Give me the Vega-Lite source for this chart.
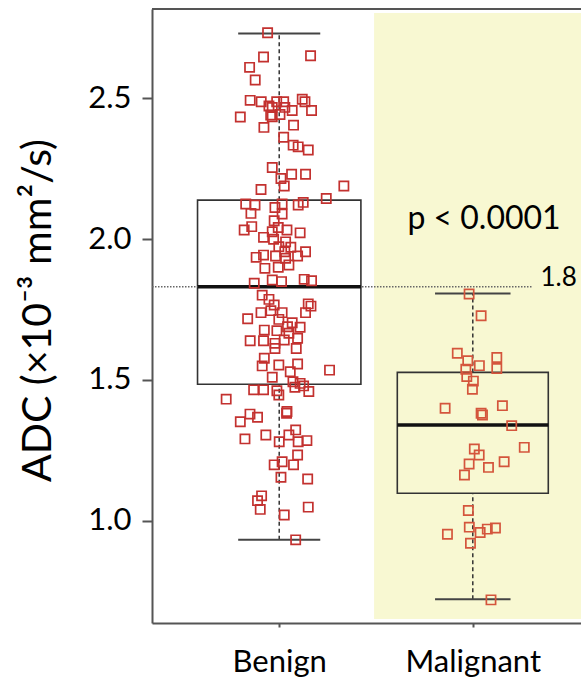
{
  "$schema": "https://vega.github.io/schema/vega-lite/v6.json",
  "width": 429,
  "height": 614,
  "autosize": {"type": "none"},
  "padding": {"left": 152, "top": 9, "right": 0, "bottom": 54},
  "background": "white",
  "config": {"view": {"stroke": null}, "font": "Lato"},
  "datasets": {
    "box": [
      {"g": "Benign", "pos": 1, "lo": 0.933, "q1": 1.485, "med": 1.831, "q3": 2.138, "hi": 2.729},
      {"g": "Malignant", "pos": 2, "lo": 0.722, "q1": 1.098, "med": 1.340, "q3": 1.527, "hi": 1.807}
    ],
    "pts": [
      {"g":"Benign","x":0.940,"v":2.732},{"g":"Benign","x":0.919,"v":2.646},{"g":"Benign","x":1.162,"v":2.650},{"g":"Benign","x":0.847,"v":2.609},
      {"g":"Benign","x":0.876,"v":2.564},{"g":"Benign","x":0.850,"v":2.492},{"g":"Benign","x":0.907,"v":2.487},{"g":"Benign","x":0.947,"v":2.472},
      {"g":"Benign","x":0.987,"v":2.487},{"g":"Benign","x":1.023,"v":2.487},{"g":"Benign","x":1.119,"v":2.496},{"g":"Benign","x":1.133,"v":2.487},
      {"g":"Benign","x":0.799,"v":2.433},{"g":"Benign","x":0.956,"v":2.440},{"g":"Benign","x":1.004,"v":2.442},{"g":"Benign","x":1.067,"v":2.456},
      {"g":"Benign","x":1.167,"v":2.456},{"g":"Benign","x":0.921,"v":2.396},{"g":"Benign","x":1.074,"v":2.404},{"g":"Benign","x":1.023,"v":2.361},
      {"g":"Benign","x":1.072,"v":2.333},{"g":"Benign","x":1.098,"v":2.327},{"g":"Benign","x":1.150,"v":2.316},{"g":"Benign","x":0.964,"v":2.467},
      {"g":"Benign","x":1.029,"v":2.467},{"g":"Benign","x":0.964,"v":2.434},{"g":"Benign","x":0.964,"v":2.254},{"g":"Benign","x":1.064,"v":2.230},
      {"g":"Benign","x":1.136,"v":2.230},{"g":"Benign","x":1.009,"v":2.215},{"g":"Benign","x":1.026,"v":2.188},{"g":"Benign","x":0.906,"v":2.176},
      {"g":"Benign","x":1.334,"v":2.188},{"g":"Benign","x":1.243,"v":2.144},{"g":"Benign","x":1.124,"v":2.130},{"g":"Benign","x":1.098,"v":2.121},
      {"g":"Benign","x":0.827,"v":2.124},{"g":"Benign","x":0.875,"v":2.121},{"g":"Benign","x":0.854,"v":2.091},{"g":"Benign","x":0.978,"v":2.112},
      {"g":"Benign","x":1.015,"v":2.124},{"g":"Benign","x":1.015,"v":2.089},{"g":"Benign","x":0.974,"v":2.065},{"g":"Benign","x":0.858,"v":2.044},
      {"g":"Benign","x":0.819,"v":2.032},{"g":"Benign","x":0.995,"v":2.041},{"g":"Benign","x":1.040,"v":2.032},{"g":"Benign","x":1.108,"v":2.022},
      {"g":"Benign","x":0.964,"v":2.026},{"g":"Benign","x":0.919,"v":2.006},{"g":"Benign","x":0.971,"v":1.999},{"g":"Benign","x":1.033,"v":1.990},
      {"g":"Benign","x":0.998,"v":1.973},{"g":"Benign","x":1.060,"v":1.971},{"g":"Benign","x":1.029,"v":1.955},{"g":"Benign","x":1.136,"v":1.955},
      {"g":"Benign","x":0.881,"v":1.935},{"g":"Benign","x":0.919,"v":1.943},{"g":"Benign","x":0.981,"v":1.940},{"g":"Benign","x":1.033,"v":1.932},
      {"g":"Benign","x":1.095,"v":1.940},{"g":"Benign","x":0.926,"v":1.896},{"g":"Benign","x":0.995,"v":1.900},{"g":"Benign","x":1.050,"v":1.908},
      {"g":"Benign","x":0.871,"v":1.843},{"g":"Benign","x":0.964,"v":1.855},{"g":"Benign","x":1.012,"v":1.849},{"g":"Benign","x":1.129,"v":1.857},
      {"g":"Benign","x":1.167,"v":1.852},{"g":"Benign","x":0.912,"v":1.801},{"g":"Benign","x":0.947,"v":1.786},{"g":"Benign","x":0.974,"v":1.766},
      {"g":"Benign","x":1.150,"v":1.770},{"g":"Benign","x":1.164,"v":1.762},{"g":"Benign","x":1.136,"v":1.739},{"g":"Benign","x":0.906,"v":1.739},
      {"g":"Benign","x":0.957,"v":1.746},{"g":"Benign","x":1.015,"v":1.739},{"g":"Benign","x":0.837,"v":1.717},{"g":"Benign","x":0.998,"v":1.715},
      {"g":"Benign","x":1.067,"v":1.703},{"g":"Benign","x":1.108,"v":1.687},{"g":"Benign","x":0.923,"v":1.677},{"g":"Benign","x":0.988,"v":1.675},
      {"g":"Benign","x":1.043,"v":1.689},{"g":"Benign","x":1.050,"v":1.666},{"g":"Benign","x":1.095,"v":1.648},{"g":"Benign","x":1.026,"v":1.642},
      {"g":"Benign","x":0.850,"v":1.639},{"g":"Benign","x":0.919,"v":1.639},{"g":"Benign","x":0.978,"v":1.630},{"g":"Benign","x":0.978,"v":1.612},
      {"g":"Benign","x":1.088,"v":1.612},{"g":"Benign","x":0.923,"v":1.577},{"g":"Benign","x":0.912,"v":1.550},{"g":"Benign","x":0.998,"v":1.553},
      {"g":"Benign","x":1.095,"v":1.557},{"g":"Benign","x":1.057,"v":1.529},{"g":"Benign","x":1.260,"v":1.535},{"g":"Benign","x":0.964,"v":1.510},
      {"g":"Benign","x":1.071,"v":1.494},{"g":"Benign","x":1.108,"v":1.488},{"g":"Benign","x":1.081,"v":1.474},{"g":"Benign","x":1.126,"v":1.479},
      {"g":"Benign","x":0.868,"v":1.465},{"g":"Benign","x":0.919,"v":1.465},{"g":"Benign","x":0.988,"v":1.462},{"g":"Benign","x":0.998,"v":1.447},
      {"g":"Benign","x":1.153,"v":1.459},{"g":"Benign","x":0.726,"v":1.432},{"g":"Benign","x":1.040,"v":1.388},{"g":"Benign","x":0.799,"v":1.352},
      {"g":"Benign","x":0.849,"v":1.379},{"g":"Benign","x":0.888,"v":1.368},{"g":"Benign","x":1.038,"v":1.382},{"g":"Benign","x":0.823,"v":1.291},
      {"g":"Benign","x":0.931,"v":1.305},{"g":"Benign","x":1.000,"v":1.281},{"g":"Benign","x":1.050,"v":1.305},{"g":"Benign","x":1.085,"v":1.323},
      {"g":"Benign","x":1.098,"v":1.281},{"g":"Benign","x":1.143,"v":1.285},{"g":"Benign","x":1.095,"v":1.234},{"g":"Benign","x":0.974,"v":1.199},
      {"g":"Benign","x":1.015,"v":1.210},{"g":"Benign","x":1.074,"v":1.199},{"g":"Benign","x":1.009,"v":1.155},{"g":"Benign","x":1.147,"v":1.149},
      {"g":"Benign","x":0.909,"v":1.089},{"g":"Benign","x":0.888,"v":1.072},{"g":"Benign","x":0.902,"v":1.041},{"g":"Benign","x":1.150,"v":1.049},
      {"g":"Benign","x":1.026,"v":1.021},{"g":"Benign","x":1.085,"v":0.933},
      {"g":"Malignant","x":1.981,"v":1.805},{"g":"Malignant","x":2.043,"v":1.728},{"g":"Malignant","x":1.920,"v":1.595},{"g":"Malignant","x":1.974,"v":1.568},
      {"g":"Malignant","x":2.034,"v":1.551},{"g":"Malignant","x":2.124,"v":1.580},{"g":"Malignant","x":2.124,"v":1.541},{"g":"Malignant","x":1.964,"v":1.538},
      {"g":"Malignant","x":1.969,"v":1.512},{"g":"Malignant","x":2.003,"v":1.496},{"g":"Malignant","x":1.998,"v":1.467},{"g":"Malignant","x":1.857,"v":1.400},
      {"g":"Malignant","x":2.153,"v":1.409},{"g":"Malignant","x":2.043,"v":1.382},{"g":"Malignant","x":2.050,"v":1.376},{"g":"Malignant","x":2.201,"v":1.338},
      {"g":"Malignant","x":2.008,"v":1.255},{"g":"Malignant","x":2.266,"v":1.261},{"g":"Malignant","x":2.033,"v":1.234},{"g":"Malignant","x":1.981,"v":1.202},
      {"g":"Malignant","x":2.162,"v":1.210},{"g":"Malignant","x":2.081,"v":1.190},{"g":"Malignant","x":1.957,"v":1.163},{"g":"Malignant","x":1.977,"v":1.037},
      {"g":"Malignant","x":1.982,"v":0.978},{"g":"Malignant","x":1.869,"v":0.953},{"g":"Malignant","x":2.038,"v":0.959},{"g":"Malignant","x":2.075,"v":0.971},
      {"g":"Malignant","x":2.117,"v":0.975},{"g":"Malignant","x":1.988,"v":0.921},{"g":"Malignant","x":2.094,"v":0.720}
    ]
  },
  "layer": [
    {
      "data": {"values": [{}]},
      "mark": {"type": "rect", "color": "#f8f8d2"},
      "encoding": {
        "x": {"datum": 1.49, "type": "quantitative", "scale": {"domain": [0.3428, 2.559], "nice": false, "zero": false}},
        "x2": {"datum": 2.559},
        "y": {"datum": 0.652, "type": "quantitative", "scale": {"domain": [0.638, 2.816], "nice": false, "zero": false}},
        "y2": {"datum": 2.802}
      }
    },
    {
      "data": {"values": [{}]},
      "mark": {"type": "rule", "color": "#555", "strokeWidth": 2},
      "encoding": {
        "x": {"datum": 0.3428, "type": "quantitative"},
        "x2": {"datum": 2.559},
        "y": {"datum": 2.816, "type": "quantitative"}
      }
    },
    {
      "data": {"name": "box"},
      "mark": {"type": "rule", "color": "#333", "strokeWidth": 1.5, "strokeDash": [4, 3]},
      "encoding": {
        "x": {"field": "pos", "type": "quantitative"},
        "y": {"field": "lo", "type": "quantitative"},
        "y2": {"field": "q1"}
      }
    },
    {
      "data": {"name": "box"},
      "mark": {"type": "rule", "color": "#333", "strokeWidth": 1.5, "strokeDash": [4, 3]},
      "encoding": {
        "x": {"field": "pos", "type": "quantitative"},
        "y": {"field": "q3", "type": "quantitative"},
        "y2": {"field": "hi"}
      }
    },
    {
      "data": {"name": "box"},
      "transform": [
        {"fold": ["lo", "hi"], "as": ["end", "val"]},
        {"calculate": "datum.pos - (datum.g == 'Benign' ? 0.212 : 0.195)", "as": "c1"},
        {"calculate": "datum.pos + (datum.g == 'Benign' ? 0.212 : 0.195)", "as": "c2"}
      ],
      "mark": {"type": "rule", "color": "#444", "strokeWidth": 2},
      "encoding": {
        "x": {"field": "c1", "type": "quantitative"},
        "x2": {"field": "c2"},
        "y": {"field": "val", "type": "quantitative"}
      }
    },
    {
      "data": {"name": "box"},
      "transform": [
        {"calculate": "datum.pos - (datum.g == 'Benign' ? 0.422 : 0.39)", "as": "b1"},
        {"calculate": "datum.pos + (datum.g == 'Benign' ? 0.422 : 0.39)", "as": "b2"}
      ],
      "mark": {"type": "rect", "fillOpacity": 0, "stroke": "#333", "strokeWidth": 1.6},
      "encoding": {
        "x": {"field": "b1", "type": "quantitative"},
        "x2": {"field": "b2"},
        "y": {"field": "q1", "type": "quantitative"},
        "y2": {"field": "q3"}
      }
    },
    {
      "data": {"values": [{}]},
      "mark": {"type": "rule", "color": "#666", "strokeWidth": 1.5, "strokeDash": [1.5, 1.5]},
      "encoding": {
        "x": {"datum": 0.3428, "type": "quantitative"},
        "x2": {"datum": 2.311},
        "y": {"datum": 1.831, "type": "quantitative"}
      }
    },
    {
      "data": {"name": "box"},
      "transform": [
        {"calculate": "datum.pos - (datum.g == 'Benign' ? 0.422 : 0.39)", "as": "b1"},
        {"calculate": "datum.pos + (datum.g == 'Benign' ? 0.422 : 0.39)", "as": "b2"}
      ],
      "mark": {"type": "rule", "color": "#111", "strokeWidth": 3.5},
      "encoding": {
        "x": {"field": "b1", "type": "quantitative"},
        "x2": {"field": "b2"},
        "y": {"field": "med", "type": "quantitative"}
      }
    },
    {
      "data": {"name": "pts"},
      "mark": {"type": "point", "shape": "square", "filled": false, "strokeWidth": 1.7, "size": 85, "opacity": 1},
      "encoding": {
        "x": {
          "field": "x", "type": "quantitative",
          "scale": {"domain": [0.3428, 2.559], "nice": false, "zero": false},
          "axis": {
            "values": [1, 2],
            "labelExpr": "datum.value == 1 ? 'Benign' : 'Malignant'",
            "title": null, "grid": false,
            "domainColor": "#555", "domainWidth": 2,
            "tickColor": "#555", "tickWidth": 2, "tickSize": 4,
            "labelFontSize": 31, "labelColor": "#000", "labelPadding": 20, "labelFont": "Lato"
          }
        },
        "y": {
          "field": "v", "type": "quantitative",
          "scale": {"domain": [0.638, 2.816], "nice": false, "zero": false},
          "axis": {
            "values": [1, 1.5, 2, 2.5], "format": ".1f",
            "title": "ADC (×10⁻³ mm²/s)",
            "titleFontSize": 41, "titleFontWeight": "normal", "titleColor": "#000", "titleFont": "Lato",
            "titleX": -102, "titleY": 301, "titleAngle": -90, "titleAlign": "center", "titleBaseline": "alphabetic",
            "grid": false,
            "domainColor": "#555", "domainWidth": 2,
            "tickColor": "#555", "tickWidth": 2, "tickSize": 10,
            "labelFontSize": 31, "labelColor": "#000", "labelPadding": 11, "labelFont": "Lato"
          }
        },
        "color": {"field": "g", "type": "nominal", "scale": {"domain": ["Benign", "Malignant"], "range": ["#c3312f", "#d4553c"]}, "legend": null}
      }
    },
    {
      "data": {"values": [{}]},
      "mark": {"type": "text", "text": "1.8", "fontSize": 26, "align": "left", "baseline": "alphabetic", "dy": -1, "color": "#000", "font": "Lato"},
      "encoding": {
        "x": {"datum": 2.35, "type": "quantitative"},
        "y": {"datum": 1.831, "type": "quantitative"}
      }
    },
    {
      "data": {"values": [{}]},
      "mark": {"type": "text", "text": "p < 0.0001", "fontSize": 32, "align": "center", "baseline": "middle", "color": "#000", "font": "Lato"},
      "encoding": {
        "x": {"datum": 2.058, "type": "quantitative"},
        "y": {"datum": 2.071, "type": "quantitative"}
      }
    }
  ]
}
